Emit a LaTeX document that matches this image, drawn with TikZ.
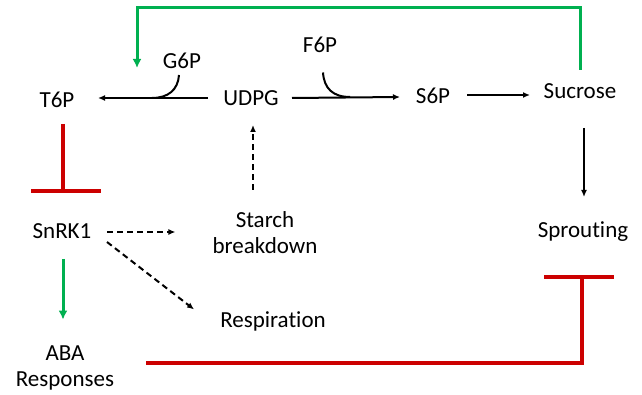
\documentclass[tikz,border=0pt]{standalone}
\usepackage{fontspec}
\setmainfont{Carlito}[Ligatures={NoCommon}]
\usetikzlibrary{arrows.meta,calc}
\definecolor{mygreen}{RGB}{0,176,80}
\definecolor{myred}{RGB}{204,0,0}
\begin{document}
\begin{tikzpicture}[x=1pt,y=-1pt,
  lbl/.style={inner sep=0pt,font=\fontsize{23}{26}\selectfont,align=center},
  arr/.style={line width=2pt,-{Latex[length=7pt,width=6pt]}},
  darr/.style={line width=2pt,dash pattern=on 6pt off 4pt,-{Latex[length=7pt,width=6pt]}},
  garr/.style={line width=3pt,draw=mygreen,-{Latex[length=9pt,width=9pt]}},
  inh/.style={line width=3.5pt,draw=myred}]
\useasboundingbox (0,0) rectangle (642,395);
\node[lbl,anchor=base] (t6p) at (57,107.5) {T6P};
\node[lbl,anchor=base] (udpg) at (251,105.5) {UDPG};
\node[lbl,anchor=base] (g6p) at (182,68.5) {G6P};
\node[lbl,anchor=base] (f6p) at (320,52.5) {F6P};
\node[lbl,anchor=base] (s6p) at (433,103.5) {S6P};
\node[lbl,anchor=base] (sucrose) at (580,98.5) {Sucrose};
\node[lbl,anchor=base] (snrk) at (62,238.5) {SnRK1};
\node[lbl] (starch) at (265,233) {Starch\\breakdown};
\node[lbl,anchor=base] (resp) at (273,327.5) {Respiration};
\node[lbl] (aba) at (65,368) {ABA\\Responses};
\node[lbl,anchor=base] (sprout) at (583,237.5) {Sprouting};
% UDPG -> T6P with G6P
\draw[arr] ($(udpg.base)+(-43,-7.5)$) -- ($(t6p.base)+(41,-9.5)$);
\draw[line width=2pt] ($(g6p.base)+(-3,6.5)$) .. controls ($(g6p.base)+(-4,21.5)$) and ($(g6p.base)+(-14,29.5)$) .. ($(g6p.base)+(-30,29.5)$);
% UDPG -> S6P with F6P
\draw[arr] ($(udpg.base)+(41,-7.5)$) -- ($(s6p.base)+(-33,-6.5)$);
\draw[line width=2pt] ($(f6p.base)+(3,20)$) .. controls ($(f6p.base)+(4,36)$) and ($(f6p.base)+(13,44.5)$) .. ($(f6p.base)+(30,44.5)$);
\draw[arr] ($(s6p.base)+(34,-8.5)$) -- ($(sucrose.base)+(-50,-3.5)$);
\draw[arr] ($(sucrose.base)+(4,29.5)$) -- ($(sprout.base)+(1,-40.5)$);
% green feedback
\draw[garr] ($(sucrose.base)+(0,-28.5)$) |- (137,8) -- ($(t6p.base)+(80,-39.5)$);
% T6P inhibits SnRK1
\draw[inh] ($(t6p.base)+(6,16.5)$) -- ($(t6p.base)+(6,83.5)$);
\draw[inh] ($(t6p.base)+(-26,83.5)$) -- ($(t6p.base)+(44,83.5)$);
% starch -> UDPG
\draw[darr] ($(starch.north)+(-12,-22)$) -- ($(udpg.base)+(2,19.5)$);
% SnRK1 dashed
\draw[darr] ($(snrk.base)+(45,-6.5)$) -- ($(starch.west)+(-37,-1)$);
\draw[darr] ($(snrk.base)+(45,3.5)$) -- ($(resp.west)+(-26,-12)$);
% SnRK1 -> ABA
\draw[garr] ($(snrk.base)+(1,20.5)$) -- ($(aba.north)+(-2,-26)$);
% ABA inhibits sprouting
\draw[inh] ($(aba.east)+(32,-5)$) -| ($(sprout.base)+(-1,39.5)$);
\draw[inh] ($(sprout.base)+(-39,39.5)$) -- ($(sprout.base)+(31,39.5)$);
\end{tikzpicture}
\end{document}
